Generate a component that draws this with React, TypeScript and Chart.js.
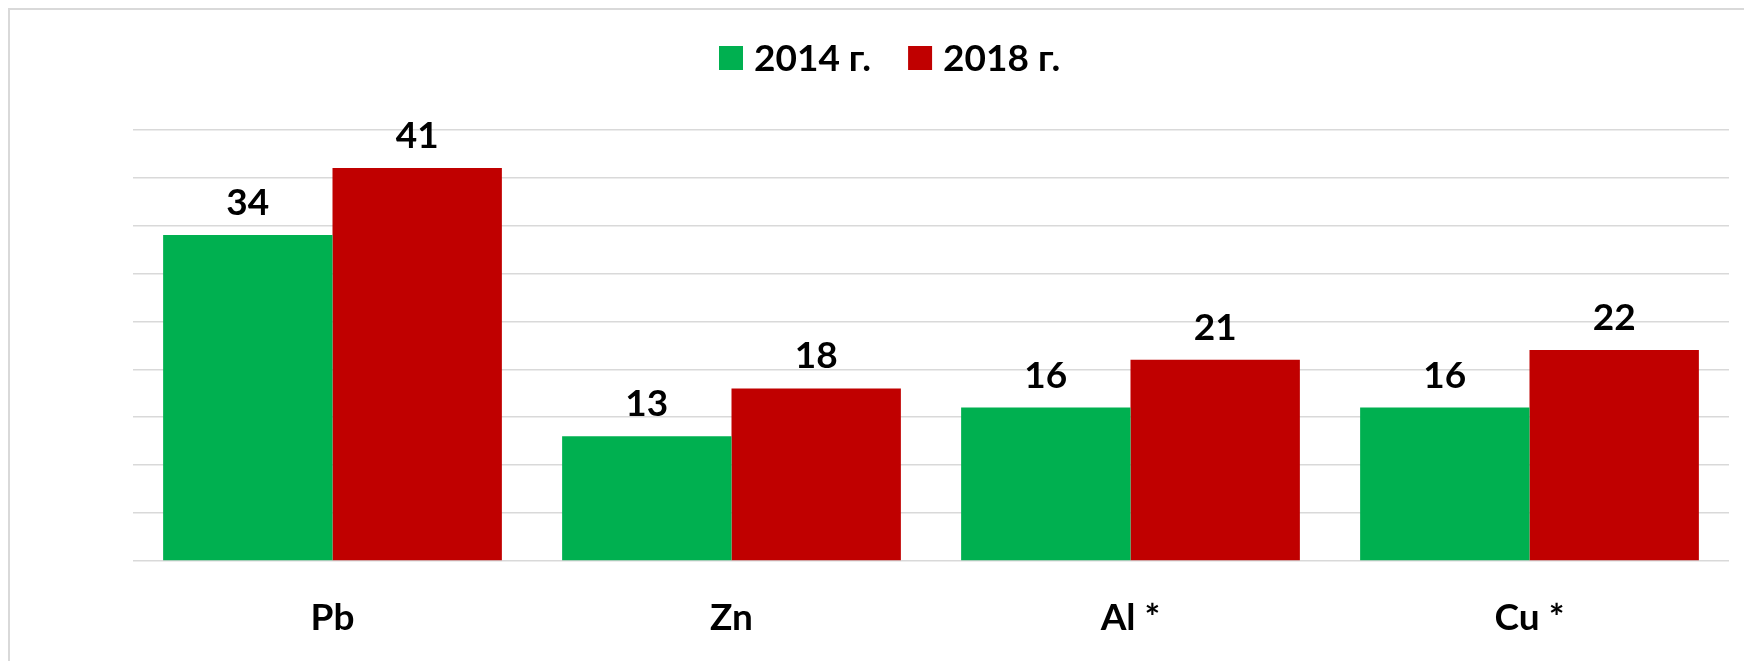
import React, { useEffect, useRef } from "react";
import { Chart, registerables } from "chart.js";

Chart.register(...registerables);

const categories = ["Pb", "Zn", "Al *", "Cu *"];
const seriesLabels = ["2014 г.", "2018 г."];
const values2014 = [34, 13, 16, 16];
const values2018 = [41, 18, 21, 22];
const colors = ["#00B050", "#C00000"];
const yMax = 45;
const yStep = 5;

const FONT = "Lato";

const labelPlugin = {
  id: "valueLabels",
  afterDatasetsDraw(chart: any) {
    const ctx = chart.ctx;
    ctx.save();
    ctx.font = `bold 37px ${FONT}`;
    ctx.fillStyle = "#000000";
    ctx.textAlign = "center";
    ctx.textBaseline = "middle";
    chart.data.datasets.forEach((ds: any, di: number) => {
      const meta = chart.getDatasetMeta(di);
      meta.data.forEach((el: any, i: number) => {
        ctx.fillText(String(ds.data[i]), el.x, el.y - 32);
      });
    });
    ctx.restore();
  },
};

const legendPlugin = {
  id: "customLegend",
  afterDraw(chart: any) {
    const ctx = chart.ctx;
    ctx.save();
    ctx.font = `bold 37px ${FONT}`;
    ctx.textBaseline = "middle";
    ctx.textAlign = "left";
    let x = 709;
    const cy = 48;
    chart.data.datasets.forEach((ds: any) => {
      ctx.fillStyle = ds.backgroundColor;
      ctx.fillRect(x, cy - 12, 24, 24);
      x += 24 + 11;
      ctx.fillStyle = "#000000";
      ctx.fillText(ds.label, x, cy + 1);
      x += ctx.measureText(ds.label).width + 37;
    });
    ctx.restore();
  },
};

export default function App() {
  const ref = useRef<HTMLCanvasElement | null>(null);

  useEffect(() => {
    if (!ref.current) return;
    const chart = new Chart(ref.current, {
      type: "bar",
      data: {
        labels: categories,
        datasets: [
          {
            label: seriesLabels[0],
            data: values2014,
            backgroundColor: colors[0],
            borderWidth: 0,
            categoryPercentage: 0.849,
            barPercentage: 1.0,
          },
          {
            label: seriesLabels[1],
            data: values2018,
            backgroundColor: colors[1],
            borderWidth: 0,
            categoryPercentage: 0.849,
            barPercentage: 1.0,
          },
        ],
      },
      options: {
        animation: false,
        responsive: false,
        maintainAspectRatio: false,
        devicePixelRatio: 1,
        layout: { padding: { left: 123, right: 23, top: 119.6, bottom: 0 } },
        plugins: {
          legend: { display: false },
          tooltip: { enabled: false },
        },
        scales: {
          x: {
            grid: { display: false, drawTicks: false },
            border: { display: false },
            ticks: {
              color: "#000000",
              font: { family: FONT, size: 37, weight: "bold" },
              padding: 35,
            },
            afterFit: (scale: any) => {
              scale.height = 100;
            },
          },
          y: {
            min: 0,
            max: yMax,
            ticks: { stepSize: yStep, display: false },
            grid: { color: "#d9d9d9", lineWidth: 1.5, drawTicks: false },
            border: { display: false },
            afterFit: (scale: any) => {
              scale.width = 0;
            },
          },
        },
      },
      plugins: [labelPlugin, legendPlugin],
    });
    return () => chart.destroy();
  }, []);

  return (
    <div
      style={{
        position: "relative",
        width: 1744,
        height: 653,
        boxSizing: "border-box",
        borderTop: "2px solid #d9d9d9",
        borderLeft: "2px solid #d9d9d9",
        background: "#ffffff",
      }}
    >
      <canvas
        ref={ref}
        width={1742}
        height={651}
        style={{ display: "block", width: 1742, height: 651 }}
      />
    </div>
  );
}
